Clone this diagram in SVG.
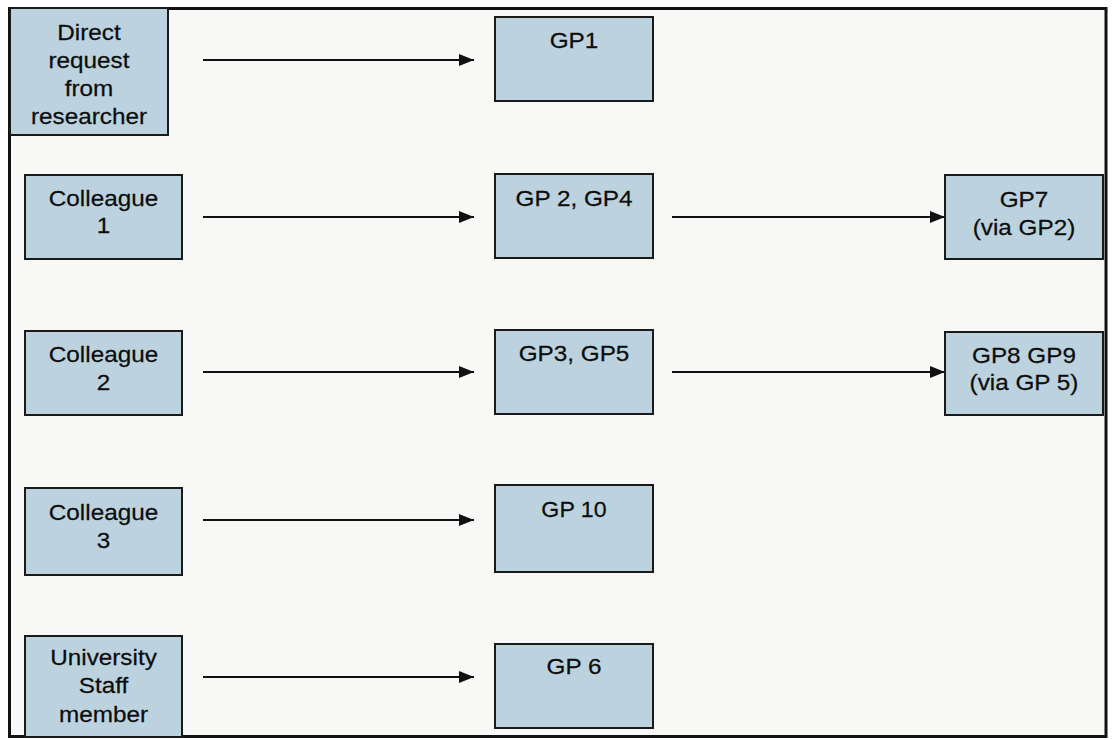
<svg xmlns="http://www.w3.org/2000/svg" width="1113" height="740" viewBox="0 0 1113 740">
  <style>
    .node rect { fill: #bcd3df; stroke: #1a1a1a; stroke-width: 2; }
    .node text { font-family: "Liberation Sans", Arial, sans-serif; font-size: 22.5px; fill: #0d0d0d; text-anchor: middle; stroke: #0d0d0d; stroke-width: 0.25; }
    .edge { stroke: #111; stroke-width: 2.2; fill: none; marker-end: url(#arrow); }
  </style>
  <defs>
    <marker id="arrow" viewBox="0 0 15 12" refX="15" refY="6" markerWidth="15" markerHeight="12" markerUnits="userSpaceOnUse" orient="auto">
      <path d="M0,0 L15,6 L0,12 Z" fill="#111"/>
    </marker>
  </defs>

  <!-- page and outer frame -->
  <rect x="0" y="0" width="1113" height="740" fill="#ffffff"/>
  <rect x="9.5" y="8.5" width="1096.5" height="728" fill="#f8f9f7" stroke="#111" stroke-width="3"/>

  <!-- connectors -->
  <g id="connectors">
    <line class="edge" x1="203" y1="60" x2="474" y2="60"/>
    <line class="edge" x1="203" y1="217" x2="474" y2="217"/>
    <line class="edge" x1="203" y1="372" x2="474" y2="372"/>
    <line class="edge" x1="203" y1="520" x2="474" y2="520"/>
    <line class="edge" x1="203" y1="677" x2="474" y2="677"/>
    <line class="edge" x1="672" y1="217" x2="945" y2="217"/>
    <line class="edge" x1="672" y1="372" x2="945" y2="372"/>
  </g>

  <!-- sources -->
  <g id="direct-request" class="node">
    <rect x="10" y="8" width="158" height="127"/>
    <text transform="translate(89 40) scale(1.08 1)">Direct</text>
    <text transform="translate(89 68) scale(1.08 1)">request</text>
    <text transform="translate(89 96) scale(1.08 1)">from</text>
    <text transform="translate(89 124) scale(1.08 1)">researcher</text>
  </g>
  <g id="colleague-1" class="node">
    <rect x="25" y="175" width="157" height="84"/>
    <text transform="translate(103.5 206) scale(1.08 1)">Colleague</text>
    <text transform="translate(103.5 233) scale(1.08 1)">1</text>
  </g>
  <g id="colleague-2" class="node">
    <rect x="25" y="331" width="157" height="84"/>
    <text transform="translate(103.5 362) scale(1.08 1)">Colleague</text>
    <text transform="translate(103.5 390) scale(1.08 1)">2</text>
  </g>
  <g id="colleague-3" class="node">
    <rect x="25" y="488" width="157" height="87"/>
    <text transform="translate(103.5 520) scale(1.08 1)">Colleague</text>
    <text transform="translate(103.5 548) scale(1.08 1)">3</text>
  </g>
  <g id="university-staff" class="node">
    <rect x="25" y="636" width="157" height="101"/>
    <text transform="translate(103.5 665) scale(1.08 1)">University</text>
    <text transform="translate(103.5 693) scale(1.08 1)">Staff</text>
    <text transform="translate(103.5 722) scale(1.08 1)">member</text>
  </g>

  <!-- GPs reached directly -->
  <g id="gp1" class="node">
    <rect x="495" y="17" width="158" height="84"/>
    <text transform="translate(574 48) scale(1.08 1)">GP1</text>
  </g>
  <g id="gp2-gp4" class="node">
    <rect x="495" y="174" width="158" height="84"/>
    <text transform="translate(574 206) scale(1.08 1)">GP 2, GP4</text>
  </g>
  <g id="gp3-gp5" class="node">
    <rect x="495" y="330" width="158" height="84"/>
    <text transform="translate(574 361) scale(1.08 1)">GP3, GP5</text>
  </g>
  <g id="gp10" class="node">
    <rect x="495" y="485" width="158" height="87"/>
    <text transform="translate(574 517) scale(1.03 1)">GP 10</text>
  </g>
  <g id="gp6" class="node">
    <rect x="495" y="644" width="158" height="84"/>
    <text transform="translate(574 674) scale(1.08 1)">GP 6</text>
  </g>

  <!-- GPs reached through another GP -->
  <g id="gp7" class="node">
    <rect x="945" y="175" width="158" height="84"/>
    <text transform="translate(1024 207) scale(1.08 1)">GP7</text>
    <text transform="translate(1024 235) scale(1.08 1)">(via GP2)</text>
  </g>
  <g id="gp8-gp9" class="node">
    <rect x="945" y="332" width="158" height="83"/>
    <text transform="translate(1024 363) scale(1.08 1)">GP8 GP9</text>
    <text transform="translate(1024 390) scale(1.08 1)">(via GP 5)</text>
  </g>
</svg>
